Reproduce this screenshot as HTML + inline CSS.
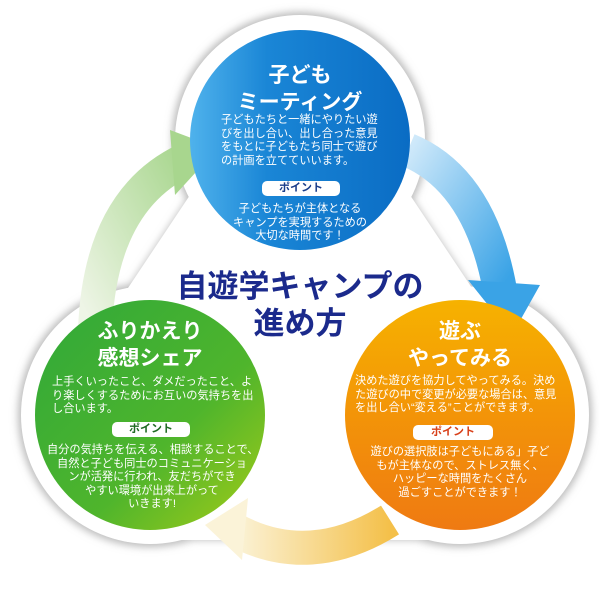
<!DOCTYPE html>
<html><head><meta charset="utf-8"><style>
body{margin:0;width:600px;height:600px;background:#fff;position:relative;overflow:hidden;font-family:"Liberation Sans","Noto Sans CJK JP",sans-serif}
.t{position:absolute;color:#fff;text-align:center;white-space:nowrap}
.h{font-weight:bold;font-size:21px;line-height:27px}
.b{font-size:11.2px;line-height:13.6px}
.p{position:absolute;background:#fff;border-radius:5px;font-weight:bold;font-size:11px;text-align:center;line-height:15px;height:15px}
</style></head><body>
<svg width="600" height="600" style="position:absolute;left:0;top:0">
<defs>
<filter id="sh" x="-10%" y="-10%" width="120%" height="120%"><feGaussianBlur stdDeviation="4"/></filter>
<linearGradient id="gb" x1="0" y1="0" x2="1" y2="0"><stop offset="0" stop-color="#4fb2ec"/><stop offset=".35" stop-color="#1a86d6"/><stop offset="1" stop-color="#0a6cc4"/></linearGradient>
<linearGradient id="gg" x1="0" y1="0" x2="1" y2="1"><stop offset="0" stop-color="#2fa83a"/><stop offset=".6" stop-color="#4fb52c"/><stop offset="1" stop-color="#a5cc18"/></linearGradient>
<linearGradient id="go" x1="0" y1="0" x2="0" y2="1"><stop offset="0" stop-color="#f6b200"/><stop offset=".5" stop-color="#f39408"/><stop offset="1" stop-color="#ef7a12"/></linearGradient>
<linearGradient id="ab" x1="0" y1="0" x2="1" y2="1"><stop offset="0" stop-color="#cfe9fa"/><stop offset="1" stop-color="#3aa3e6"/></linearGradient>
<linearGradient id="ag" x1="0" y1="1" x2="1" y2="0"><stop offset="0" stop-color="#eef5e6"/><stop offset="1" stop-color="#a8d68e"/></linearGradient>
<linearGradient id="ay" x1="1" y1="0" x2="0" y2="0"><stop offset="0" stop-color="#f4c04a"/><stop offset="1" stop-color="#fbf3d8"/></linearGradient>
</defs>
<g filter="url(#sh)" fill="#bbb">
<circle cx="300" cy="140" r="128"/><circle cx="150" cy="415" r="132"/><circle cx="460" cy="415" r="132"/><polygon points="220,150 380,150 520,360 460,540 150,540 80,360"/>
</g>
<g fill="#fff">
<circle cx="300" cy="140" r="125"/><circle cx="150" cy="415" r="129"/><circle cx="460" cy="415" r="129"/><polygon points="220,150 380,150 520,360 460,540 150,540 80,360"/>
</g>
<path d="M408,150 Q480,180 500,290" stroke="url(#ab)" stroke-width="34" fill="none"/>
<polygon points="468,280 540,285 512,335" fill="#3aa3e6"/>
<path d="M95,330 Q100,200 185,160" stroke="url(#ag)" stroke-width="34" fill="none"/>
<polygon points="170,130 218,148 175,195" fill="#a8d68e"/>
<path d="M390,520 Q310,570 235,530" stroke="url(#ay)" stroke-width="34" fill="none"/>
<polygon points="248,498 205,525 242,560" fill="#fbf3d8"/>
<circle cx="300" cy="140" r="110" fill="url(#gb)"/>
<circle cx="150" cy="415" r="115" fill="url(#gg)"/>
<circle cx="460" cy="415" r="115" fill="url(#go)"/>
</svg>
<div class="t h" style="left:200px;top:62px;width:200px">子ども<br>ミーティング</div>
<div class="t b" style="left:200px;top:114px;width:200px;text-align:left;padding-left:21px">子どもたちと一緒にやりたい遊<br>びを出し合い、出し合った意見<br>をもとに子どもたち同士で遊び<br>の計画を立てていいます。</div>
<div class="p" style="left:262px;top:181px;width:78px;color:#1a3d8a">ポイント</div>
<div class="t b" style="left:200px;top:203px;width:200px">子どもたちが主体となる<br>キャンプを実現するための<br>大切な時間です！</div>

<div class="t h" style="left:50px;top:318px;width:200px">ふりかえり<br>感想シェア</div>
<div class="t b" style="left:52px;top:376px;width:200px;text-align:left">上手くいったこと、ダメだったこと、よ<br>り楽しくするためにお互いの気持ちを出<br>し合います。</div>
<div class="p" style="left:112px;top:422px;width:78px;color:#1f6a22">ポイント</div>
<div class="t b" style="left:47px;top:444px;width:210px">自分の気持ちを伝える、相談することで、<br>自然と子ども同士のコミュニケーショ<br>ンが活発に行われ、友だちができ<br>やすい環境が出来上がって<br>いきます!</div>

<div class="t h" style="left:360px;top:318px;width:200px">遊ぶ<br>やってみる</div>
<div class="t b" style="left:350px;top:375px;width:220px;text-align:left;padding-left:5px">決めた遊びを協力してやってみる。決め<br>た遊びの中で変更が必要な場合は、意見<br>を出し合い“変える”ことができます。</div>
<div class="p" style="left:413px;top:425px;width:80px;color:#d8401a">ポイント</div>
<div class="t b" style="left:355px;top:446px;width:210px">遊びの選択肢は子どもにある」子ど<br>もが主体なので、ストレス無く、<br>ハッピーな時間をたくさん<br>過ごすことができます！</div>

<div style="position:absolute;left:150px;top:268px;width:300px;text-align:center;color:#1b2a8c;font-weight:bold;font-size:31px;line-height:37px;white-space:nowrap">自遊学キャンプの<br>進め方</div>
</body></html>
